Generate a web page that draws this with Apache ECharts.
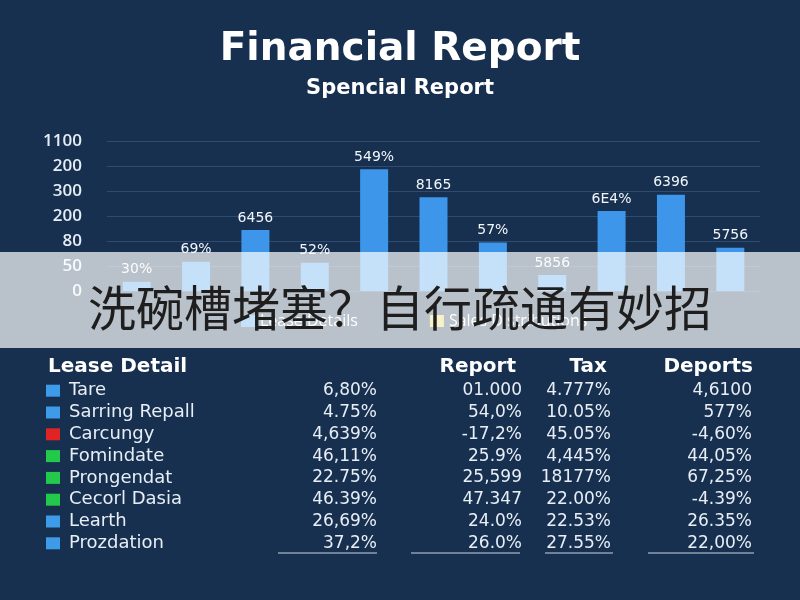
<!DOCTYPE html>
<html>
<head>
<meta charset="utf-8">
<script src="https://cdn.jsdelivr.net/npm/echarts@6/dist/echarts.min.js"></script>
<style>
html,body{margin:0;padding:0;background:#17304f;}
#chart{width:800px;height:600px;}
</style>
</head>
<body>
<div id="chart"></div>
<script>
// ---- data ----
const categories = ['C1','C2','C3','C4','C5','C6','C7','C8','C9','C10','C11'];
// bar heights in grid-step units (one step per tick row)
const barValues = [0.37, 1.17, 2.44, 1.13, 4.87, 3.75, 1.94, 0.64, 3.2, 3.85, 1.73];
const barLabels = ['30%','69%','6456','52%','549%','8165','57%','5856','6E4%','6396','5756'];
// tick labels from top to bottom, as printed
const tickLabels = ['1100','200','300','200','80','50','0'];
const legendNames = ['Lease Details','Sales Distributions'];

const tableTitle = 'Lease Detail';
const tableHeaders = ['Report','Tax','Deports'];
const rowNames = ['Tare','Sarring Repall','Carcungy','Fomindate','Prongendat','Cecorl Dasia','Learth','Prozdation'];
const leaseValues = ['6,80%','4.75%','4,639%','46,11%','22.75%','46.39%','26,69%','37,2%'];
const reportValues = ['01.000','54,0%','-17,2%','25.9%','25,599','47.347','24.0%','26.0%'];
const taxValues = ['4.777%','10.05%','45.05%','4,445%','18177%','22.00%','22.53%','27.55%'];
const deportValues = ['4,6100','577%','-4,60%','44,05%','67,25%','-4.39%','26.35%','22,00%'];
const bannerText = '洗碗槽堵塞？自行疏通有妙招';

// ---- styles ----
const rowColors = ['#3d9be9','#3d9be9','#e02424','#22c94a','#22c94a','#22c94a','#3d9be9','#3d9be9'];
const FONT = '"Open Sans", "DejaVu Sans", sans-serif';
const WIDE = '"DejaVu Sans", sans-serif';

const chart = echarts.init(document.getElementById('chart'));

const graphics = [];
// table
graphics.push({type:'text', x:48, y:367, z:10, style:{text:tableTitle, fill:'#ffffff', font:'bold 20px '+WIDE, textVerticalAlign:'middle'}});
const headerRight = [516, 607, 753];
tableHeaders.forEach((h,i)=>{
  graphics.push({type:'text', x:headerRight[i], y:367, z:10, style:{text:h, fill:'#ffffff', font:'bold 20px '+WIDE, textAlign:'right', textVerticalAlign:'middle'}});
});
const colRight = [377, 522, 611, 752];
const cols = [leaseValues, reportValues, taxValues, deportValues];
rowNames.forEach((n,i)=>{
  const y = 390.7 + i*21.8;
  graphics.push({type:'rect', z:10, shape:{x:46, y:y-6, width:14, height:12}, style:{fill:rowColors[i]}});
  graphics.push({type:'text', x:69, y:y, z:10, style:{text:n, fill:'#e8eef6', font:'18px '+WIDE, textVerticalAlign:'middle'}});
  cols.forEach((c,j)=>{
    graphics.push({type:'text', x:colRight[j], y:y, z:10, style:{text:c[i], fill:'#e8eef6', font:'17px '+WIDE, textAlign:'right', textVerticalAlign:'middle'}});
  });
});
const underlines = [[278,377],[411,520],[545,613],[648,754]];
underlines.forEach(u=>{
  graphics.push({type:'line', z:10, shape:{x1:u[0], y1:553, x2:u[1], y2:553}, style:{stroke:'#c9d4e2', lineWidth:1}});
});
// banner overlay
graphics.push({type:'rect', z:100, shape:{x:0, y:252, width:800, height:96}, style:{fill:'rgba(255,255,255,0.7)'}});
graphics.push({type:'text', x:400, y:308, z:101, style:{text:bannerText, fill:'#1e1e1e', font:'48px "Noto Sans CJK SC", sans-serif', textAlign:'center', textVerticalAlign:'middle'}});

const option = {
  backgroundColor:'#17304f',
  animation:false,
  title:{
    text:'Financial Report',
    subtext:'Spencial Report',
    left:'center',
    top:25,
    itemGap:9,
    textStyle:{color:'#ffffff', fontSize:39, fontWeight:'bold', fontFamily:WIDE},
    subtextStyle:{color:'#ffffff', fontSize:21, fontWeight:'bold', fontFamily:WIDE}
  },
  legend:{
    data:legendNames,
    left:236,
    top:308,
    itemWidth:14,
    itemHeight:12,
    itemGap:72,
    icon:'rect',
    textStyle:{color:'#ffffff', fontSize:16, fontFamily:FONT}
  },
  grid:{left:107, right:40, top:141, bottom:309},
  xAxis:{
    type:'category',
    data:categories,
    axisLine:{show:false},
    axisTick:{show:false},
    axisLabel:{show:false}
  },
  yAxis:{
    type:'value',
    min:0, max:6, interval:1,
    axisLine:{show:false},
    axisTick:{show:false},
    splitLine:{lineStyle:{color:'#2f4b6e', width:1}},
    axisLabel:{
      color:'#e6edf5', fontSize:17, fontWeight:600, fontFamily:FONT, margin:25,
      formatter:(v)=>tickLabels[tickLabels.length-1-Math.round(v)]
    }
  },
  series:[
    {
      name:legendNames[0], type:'bar', stack:'s', data:barValues, barWidth:28,
      itemStyle:{color:'#3e96ea'},
      label:{show:true, position:'top', distance:5, color:'#f2f6fb', fontSize:14, fontFamily:WIDE,
        formatter:(p)=>barLabels[p.dataIndex]}
    },
    {
      name:legendNames[1], type:'bar', stack:'s', data:[], barWidth:28,
      itemStyle:{color:'#ead24a'}
    }
  ],
  graphic:graphics
};
chart.setOption(option);
</script>
</body>
</html>
